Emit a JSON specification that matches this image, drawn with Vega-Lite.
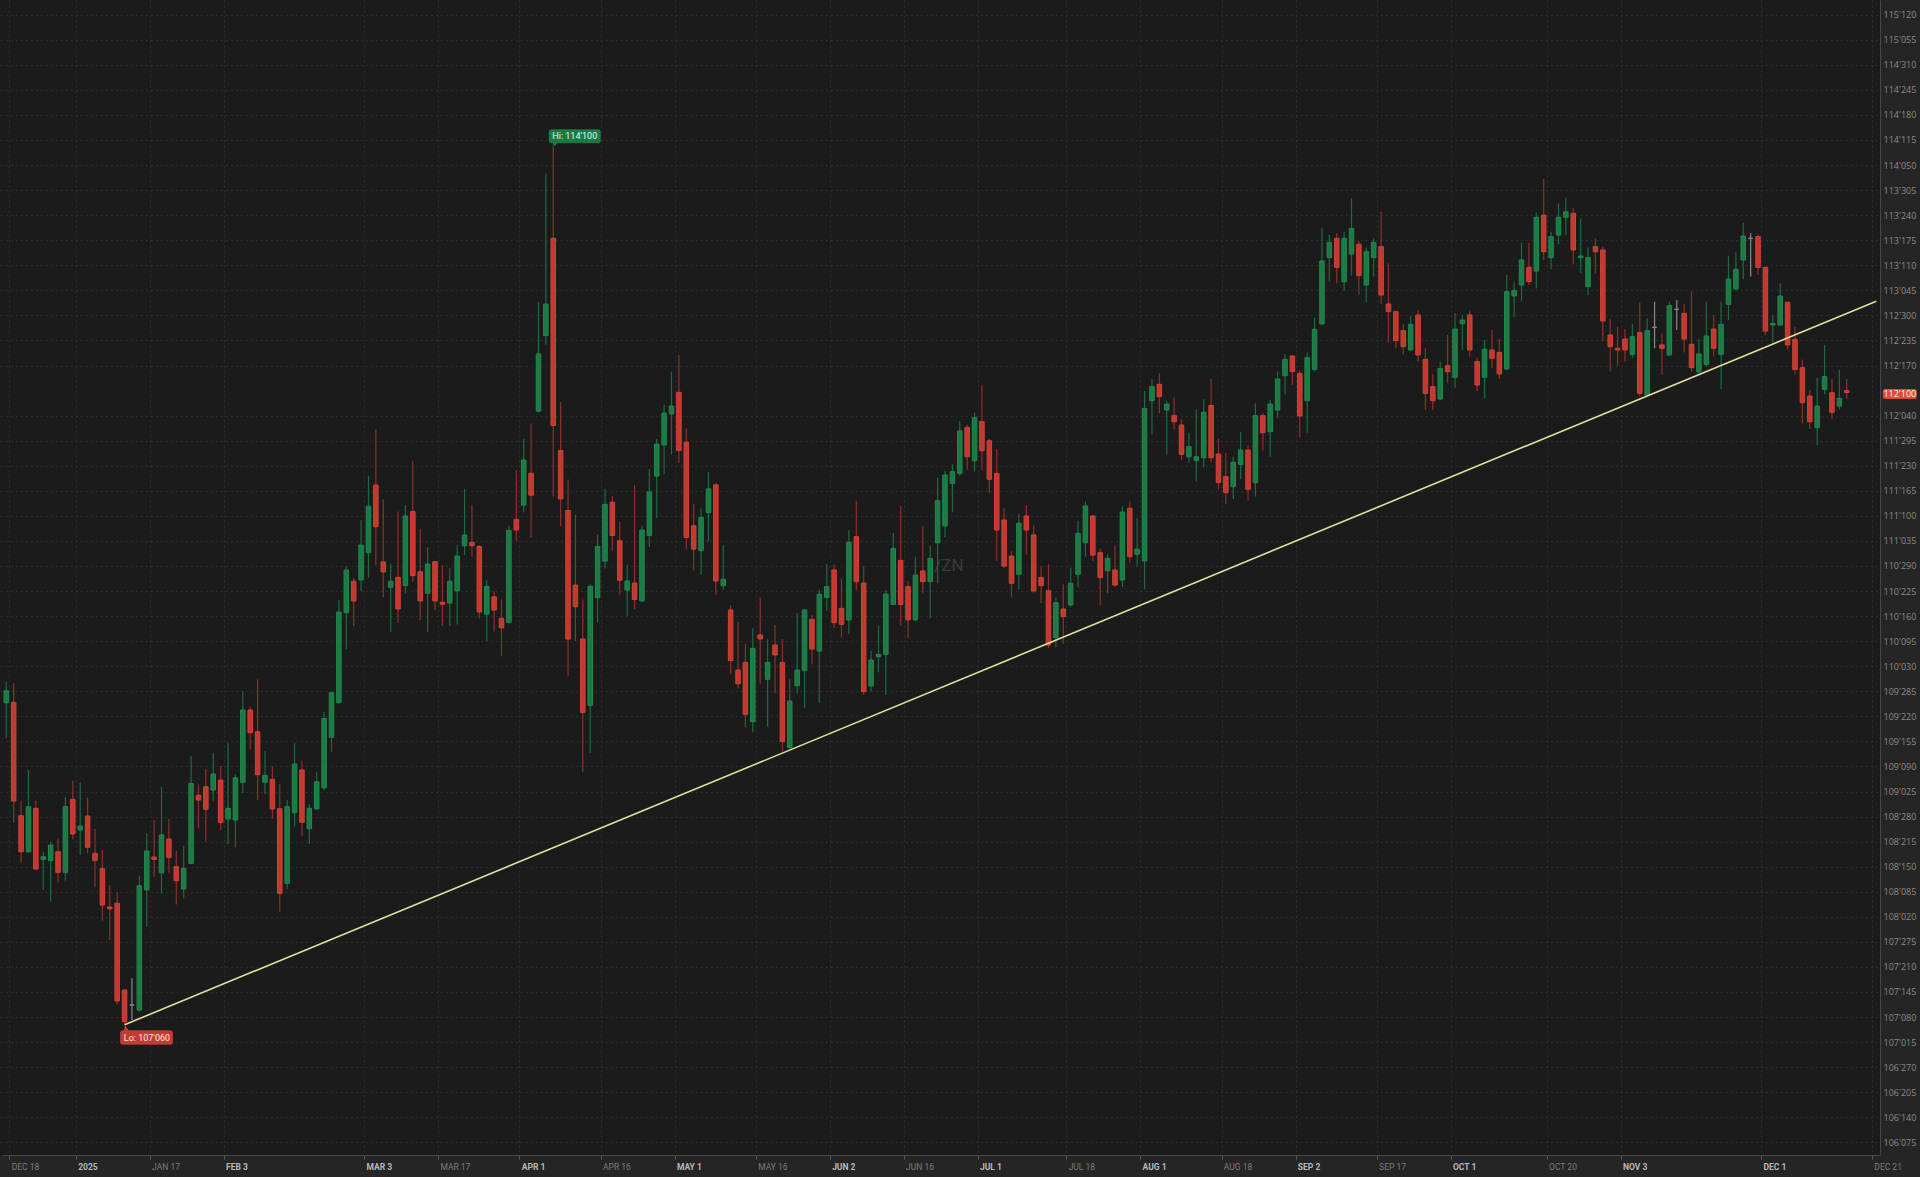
{
"$schema":"https://vega.github.io/schema/vega-lite/v6.json",
"width":1880,"height":1155,
"autosize":{"type":"none"},
"padding":{"left":0,"top":0,"right":40,"bottom":22},
"background":"#252525",
"config":{"view":{"fill":"#1b1b1b","stroke":null}},
"encoding":{
 "x":{"field":"d","type":"ordinal",
  "scale":{"type":"band","paddingInner":0,"paddingOuter":0,"range":[2.6,1880],
   "domain":["2024-12-17","2024-12-18","2024-12-19","2024-12-20","2024-12-23","2024-12-24","2024-12-26","2024-12-27","2024-12-30","2024-12-31",
   "2025-01-02","2025-01-03","2025-01-06","2025-01-07","2025-01-08","2025-01-10","2025-01-13","2025-01-14","2025-01-15","2025-01-16","2025-01-17","2025-01-21","2025-01-22","2025-01-23","2025-01-24","2025-01-27","2025-01-28","2025-01-29","2025-01-30","2025-01-31",
   "2025-02-03","2025-02-04","2025-02-05","2025-02-06","2025-02-07","2025-02-10","2025-02-11","2025-02-12","2025-02-13","2025-02-14","2025-02-18","2025-02-19","2025-02-20","2025-02-21","2025-02-24","2025-02-25","2025-02-26","2025-02-27","2025-02-28",
   "2025-03-03","2025-03-04","2025-03-05","2025-03-06","2025-03-07","2025-03-10","2025-03-11","2025-03-12","2025-03-13","2025-03-14","2025-03-17","2025-03-18","2025-03-19","2025-03-20","2025-03-21","2025-03-24","2025-03-25","2025-03-26","2025-03-27","2025-03-28","2025-03-31",
   "2025-04-01","2025-04-02","2025-04-03","2025-04-04","2025-04-07","2025-04-08","2025-04-09","2025-04-10","2025-04-11","2025-04-14","2025-04-15","2025-04-16","2025-04-17","2025-04-21","2025-04-22","2025-04-23","2025-04-24","2025-04-25","2025-04-28","2025-04-29","2025-04-30",
   "2025-05-01","2025-05-02","2025-05-05","2025-05-06","2025-05-07","2025-05-08","2025-05-09","2025-05-12","2025-05-13","2025-05-14","2025-05-15","2025-05-16","2025-05-19","2025-05-20","2025-05-21","2025-05-22","2025-05-23","2025-05-27","2025-05-28","2025-05-29","2025-05-30",
   "2025-06-02","2025-06-03","2025-06-04","2025-06-05","2025-06-06","2025-06-09","2025-06-10","2025-06-11","2025-06-12","2025-06-13","2025-06-16","2025-06-17","2025-06-18","2025-06-20","2025-06-23","2025-06-24","2025-06-25","2025-06-26","2025-06-27","2025-06-30",
   "2025-07-01","2025-07-02","2025-07-03","2025-07-07","2025-07-08","2025-07-09","2025-07-10","2025-07-11","2025-07-14","2025-07-15","2025-07-16","2025-07-17","2025-07-18","2025-07-21","2025-07-22","2025-07-23","2025-07-24","2025-07-25","2025-07-28","2025-07-29","2025-07-30","2025-07-31",
   "2025-08-01","2025-08-04","2025-08-05","2025-08-06","2025-08-07","2025-08-08","2025-08-11","2025-08-12","2025-08-13","2025-08-14","2025-08-15","2025-08-18","2025-08-19","2025-08-20","2025-08-21","2025-08-22","2025-08-25","2025-08-26","2025-08-27","2025-08-28","2025-08-29",
   "2025-09-02","2025-09-03","2025-09-04","2025-09-05","2025-09-08","2025-09-09","2025-09-10","2025-09-11","2025-09-12","2025-09-15","2025-09-16","2025-09-17","2025-09-18","2025-09-19","2025-09-22","2025-09-23","2025-09-24","2025-09-25","2025-09-26","2025-09-29","2025-09-30",
   "2025-10-01","2025-10-02","2025-10-03","2025-10-06","2025-10-07","2025-10-08","2025-10-09","2025-10-10","2025-10-13","2025-10-14","2025-10-15","2025-10-16","2025-10-17","2025-10-20","2025-10-21","2025-10-22","2025-10-23","2025-10-24","2025-10-27","2025-10-28","2025-10-29","2025-10-30","2025-10-31",
   "2025-11-03","2025-11-04","2025-11-05","2025-11-06","2025-11-07","2025-11-10","2025-11-11","2025-11-12","2025-11-13","2025-11-14","2025-11-17","2025-11-18","2025-11-19","2025-11-20","2025-11-21","2025-11-24","2025-11-25","2025-11-26","2025-11-28",
   "2025-12-01","2025-12-02","2025-12-03","2025-12-04","2025-12-05","2025-12-08","2025-12-09","2025-12-10","2025-12-11","2025-12-12","2025-12-15","2025-12-16","2025-12-17","2025-12-18","2025-12-19","2025-12-21"]},
  "axis":{"title":null,"orient":"bottom","bandPosition":0,"labelAngle":0,
   "values":["2024-12-18","2025-01-02","2025-01-17","2025-02-03","2025-03-03","2025-03-17","2025-04-01","2025-04-16","2025-05-01","2025-05-16","2025-06-02","2025-06-16","2025-07-01","2025-07-18","2025-08-01","2025-08-18","2025-09-02","2025-09-17","2025-10-01","2025-10-20","2025-11-03","2025-12-01","2025-12-21"],
   "labelExpr":"datum.value == '2025-01-02' ? '2025' : upper(utcFormat(toDate(datum.value), '%b %-d'))",
   "labelAlign":"left","labelBaseline":"top","labelPadding":3,"labelOffset":-2,
   "labelFont":"Roboto","labelFontSize":8.5,
   "labelColor":{"condition":{"test":"datum.value == '2025-01-02' || utcdate(toDate(datum.value)) <= 3","value":"#b8b8b8"},"value":"#7c7c7c"},
   "labelFontWeight":{"condition":{"test":"datum.value == '2025-01-02' || utcdate(toDate(datum.value)) <= 3","value":"bold"},"value":"normal"},
   "labelOverlap":false,"labelFlush":false,"labelBound":false,
   "tickSize":4,"tickColor":"#5a5a5a","domainColor":"#474747",
   "grid":true,"gridColor":"#2e2e2e","gridDash":[2,3]}}
},
"layer":[
 {"data":{"values":[{"d":"2025-06-24","v":110.906,"t":"/ZN"}]},
  "mark":{"type":"text","font":"Roboto","fontSize":17,"color":"#3a3a3a","align":"center","baseline":"middle","dx":4},
  "encoding":{"y":{"field":"v","type":"quantitative","scale":{"domain":[106.1318,115.4942],"nice":false,"zero":false}},
   "text":{"field":"t"}}},
 {"data":{"name":"ohlc"},
  "mark":{"type":"rule","strokeWidth":1.2},
  "encoding":{"y":{"field":"l","type":"quantitative","scale":{"domain":[106.1318,115.4942],"nice":false,"zero":false},
   "axis":{"title":null,"orient":"right","tickCount":100,
    "values":[106.234375,106.4375,106.640625,106.84375,107.046875,107.25,107.453125,107.65625,107.859375,108.0625,108.265625,108.46875,108.671875,108.875,109.078125,109.28125,109.484375,109.6875,109.890625,110.09375,110.296875,110.5,110.703125,110.90625,111.109375,111.3125,111.515625,111.71875,111.921875,112.125,112.53125,112.734375,112.9375,113.140625,113.34375,113.546875,113.75,113.953125,114.15625,114.359375,114.5625,114.765625,114.96875,115.171875,115.375],
    "labelExpr":"floor(datum.value) + \"'\" + (round((datum.value - floor(datum.value)) * 320) < 10 ? '00' : (round((datum.value - floor(datum.value)) * 320) < 100 ? '0' : '')) + round((datum.value - floor(datum.value)) * 320)",
    "labelAlign":"left","labelBaseline":"middle","labelPadding":3,"ticks":false,
    "labelFont":"Open Sans","labelFontSize":9,"labelColor":"#8c8c8c",
    "labelOverlap":false,"labelFlush":false,"labelBound":false,
    "domainColor":"#474747","grid":true,"gridColor":"#2e2e2e","gridDash":[2,3]}},
   "y2":{"field":"h"},
   "color":{"condition":[{"test":"datum.c > datum.o","value":"#1f6a40"},{"test":"datum.c < datum.o","value":"#8e3129"}],"value":"#8a8a8a"}}},
 {"data":{"name":"ohlc"},
  "mark":{"type":"bar","size":4.5,"strokeWidth":1},
  "encoding":{"y":{"field":"o","type":"quantitative","scale":{"domain":[106.1318,115.4942],"nice":false,"zero":false}},
   "y2":{"field":"c"},
   "fill":{"condition":[{"test":"datum.c > datum.o","value":"#1c7a45"},{"test":"datum.c < datum.o","value":"#c4392f"}],"value":"#8a8a8a"},
   "stroke":{"condition":[{"test":"datum.c > datum.o","value":"#22884e"},{"test":"datum.c < datum.o","value":"#cf4439"}],"value":"#8a8a8a"}}},
 {"data":{"values":[{"d":"2025-01-13","v":107.1875},{"d":"2025-12-21","v":113.052}]},
  "mark":{"type":"line","color":"#e0e09c","strokeWidth":1.6},
  "encoding":{"y":{"field":"v","type":"quantitative","scale":{"domain":[106.1318,115.4942],"nice":false,"zero":false}}}},
 {"data":{"values":[{"d":"2025-04-07","v":114.3125,"t":"Hi: 114'100"}]},
  "layer":[
   {"mark":{"type":"point","filled":true,"size":4,"opacity":1,"color":"#1b7a44","stroke":"#2a9556","strokeWidth":0.6,
     "shape":"M-2,-16H45Q47,-16 47,-14V-5Q47,-3 45,-3H4L1,0L0,-3H-2Q-4,-3 -4,-5V-14Q-4,-16 -2,-16Z"}},
   {"mark":{"type":"text","font":"Roboto","fontSize":9,"color":"#e9f4ec","align":"center","baseline":"middle","dx":21.5,"dy":-9.5},
    "encoding":{"text":{"field":"t"}}}],
  "encoding":{"y":{"field":"v","type":"quantitative","scale":{"domain":[106.1318,115.4942],"nice":false,"zero":false}}}},
 {"data":{"values":[{"d":"2025-01-13","v":107.1875,"t":"Lo: 107'060"}]},
  "layer":[
   {"mark":{"type":"point","filled":true,"size":4,"opacity":1,"color":"#c23a30","stroke":"#d6493e","strokeWidth":0.6,
     "shape":"M-2,6H0L0.5,1L4,6H46Q48,6 48,8V17.5Q48,19.5 46,19.5H-2Q-4,19.5 -4,17.5V8Q-4,6 -2,6Z"}},
   {"mark":{"type":"text","font":"Roboto","fontSize":9,"color":"#fbeae8","align":"center","baseline":"middle","dx":22.4,"dy":12.8},
    "encoding":{"text":{"field":"t"}}}],
  "encoding":{"y":{"field":"v","type":"quantitative","scale":{"domain":[106.1318,115.4942],"nice":false,"zero":false}}}},
 {"data":{"values":[{"d":"2025-12-21","v":112.3125,"t":"112'100"}]},
  "layer":[
   {"mark":{"type":"point","filled":true,"size":4,"opacity":1,"color":"#e2463b",
     "shape":"M8.5,-3.5H38.5Q40.5,-3.5 40.5,-1.5V4.5Q40.5,6.5 38.5,6.5H8.5Q6.5,6.5 6.5,4.5V-1.5Q6.5,-3.5 8.5,-3.5Z"}},
   {"mark":{"type":"text","font":"Open Sans","fontSize":9,"color":"#ffffff","align":"center","baseline":"middle","dx":23.5,"dy":1.5},
    "encoding":{"text":{"field":"t"}}}],
  "encoding":{"y":{"field":"v","type":"quantitative","scale":{"domain":[106.1318,115.4942],"nice":false,"zero":false}}}}
],
"datasets":{"ohlc":[
{"d":"2024-12-17","o":109.798,"h":109.968,"l":109.509,"c":109.895},
{"d":"2024-12-18","o":109.801,"h":109.955,"l":108.825,"c":109.001},
{"d":"2024-12-19","o":108.882,"h":109.004,"l":108.496,"c":108.590},
{"d":"2024-12-20","o":108.590,"h":109.252,"l":108.582,"c":108.955},
{"d":"2024-12-23","o":108.942,"h":109.004,"l":108.440,"c":108.450},
{"d":"2024-12-24","o":108.528,"h":108.590,"l":108.280,"c":108.550},
{"d":"2024-12-26","o":108.518,"h":108.671,"l":108.185,"c":108.644},
{"d":"2024-12-27","o":108.590,"h":108.698,"l":108.342,"c":108.423},
{"d":"2024-12-30","o":108.423,"h":109.036,"l":108.355,"c":108.955},
{"d":"2024-12-31","o":109.015,"h":109.166,"l":108.690,"c":108.734},
{"d":"2025-01-02","o":108.766,"h":109.152,"l":108.563,"c":108.798},
{"d":"2025-01-03","o":108.880,"h":109.028,"l":108.577,"c":108.626},
{"d":"2025-01-06","o":108.577,"h":108.777,"l":108.307,"c":108.518},
{"d":"2025-01-07","o":108.453,"h":108.604,"l":108.031,"c":108.158},
{"d":"2025-01-08","o":108.142,"h":108.320,"l":107.874,"c":108.128},
{"d":"2025-01-10","o":108.172,"h":108.261,"l":107.348,"c":107.380},
{"d":"2025-01-13","o":107.469,"h":107.477,"l":107.1875,"c":107.212},
{"d":"2025-01-14","o":107.348,"h":107.564,"l":107.226,"c":107.348},
{"d":"2025-01-15","o":107.307,"h":108.396,"l":107.294,"c":108.315},
{"d":"2025-01-16","o":108.280,"h":108.739,"l":107.982,"c":108.596},
{"d":"2025-01-17","o":108.547,"h":108.847,"l":108.388,"c":108.528},
{"d":"2025-01-21","o":108.420,"h":109.117,"l":108.253,"c":108.726},
{"d":"2025-01-22","o":108.693,"h":108.855,"l":108.420,"c":108.545},
{"d":"2025-01-23","o":108.469,"h":108.596,"l":108.163,"c":108.355},
{"d":"2025-01-24","o":108.288,"h":108.639,"l":108.212,"c":108.455},
{"d":"2025-01-27","o":108.496,"h":109.366,"l":108.490,"c":109.144},
{"d":"2025-01-28","o":109.047,"h":109.136,"l":108.780,"c":109.009},
{"d":"2025-01-29","o":109.117,"h":109.261,"l":108.671,"c":108.934},
{"d":"2025-01-30","o":109.090,"h":109.393,"l":109.004,"c":109.220},
{"d":"2025-01-31","o":109.171,"h":109.285,"l":108.766,"c":108.828},
{"d":"2025-02-03","o":108.855,"h":109.474,"l":108.653,"c":108.942},
{"d":"2025-02-04","o":108.847,"h":109.217,"l":108.626,"c":109.190},
{"d":"2025-02-05","o":109.153,"h":109.888,"l":109.064,"c":109.739},
{"d":"2025-02-06","o":109.739,"h":109.766,"l":109.420,"c":109.555},
{"d":"2025-02-07","o":109.563,"h":109.988,"l":109.010,"c":109.215},
{"d":"2025-02-10","o":109.153,"h":109.407,"l":109.058,"c":109.209},
{"d":"2025-02-11","o":109.177,"h":109.285,"l":108.856,"c":108.937},
{"d":"2025-02-12","o":108.939,"h":109.137,"l":108.104,"c":108.253},
{"d":"2025-02-13","o":108.334,"h":109.010,"l":108.288,"c":108.955},
{"d":"2025-02-14","o":108.907,"h":109.474,"l":108.793,"c":109.301},
{"d":"2025-02-18","o":109.253,"h":109.328,"l":108.718,"c":108.829},
{"d":"2025-02-19","o":108.777,"h":108.974,"l":108.653,"c":108.942},
{"d":"2025-02-20","o":108.937,"h":109.239,"l":108.930,"c":109.158},
{"d":"2025-02-21","o":109.109,"h":109.725,"l":109.091,"c":109.671},
{"d":"2025-02-24","o":109.517,"h":109.885,"l":109.401,"c":109.880},
{"d":"2025-02-25","o":109.799,"h":110.631,"l":109.790,"c":110.533},
{"d":"2025-02-26","o":110.528,"h":110.906,"l":110.231,"c":110.874},
{"d":"2025-02-27","o":110.782,"h":110.814,"l":110.420,"c":110.623},
{"d":"2025-02-28","o":110.793,"h":111.279,"l":110.704,"c":111.076},
{"d":"2025-03-03","o":111.014,"h":111.638,"l":110.812,"c":111.390},
{"d":"2025-03-04","o":111.563,"h":112.014,"l":110.914,"c":111.225},
{"d":"2025-03-05","o":110.939,"h":111.447,"l":110.652,"c":110.858},
{"d":"2025-03-06","o":110.733,"h":110.922,"l":110.374,"c":110.782},
{"d":"2025-03-07","o":110.814,"h":111.347,"l":110.447,"c":110.558},
{"d":"2025-03-10","o":110.747,"h":111.401,"l":110.685,"c":111.312},
{"d":"2025-03-11","o":111.347,"h":111.760,"l":110.779,"c":110.828},
{"d":"2025-03-12","o":110.860,"h":111.206,"l":110.469,"c":110.623},
{"d":"2025-03-13","o":110.685,"h":111.058,"l":110.374,"c":110.922},
{"d":"2025-03-14","o":110.941,"h":110.945,"l":110.550,"c":110.623},
{"d":"2025-03-17","o":110.612,"h":110.914,"l":110.420,"c":110.596},
{"d":"2025-03-18","o":110.606,"h":110.887,"l":110.420,"c":110.782},
{"d":"2025-03-19","o":110.704,"h":111.076,"l":110.433,"c":110.987},
{"d":"2025-03-20","o":111.071,"h":111.530,"l":110.995,"c":111.158},
{"d":"2025-03-21","o":111.098,"h":111.401,"l":110.982,"c":111.071},
{"d":"2025-03-24","o":111.064,"h":111.076,"l":110.482,"c":110.533},
{"d":"2025-03-25","o":110.516,"h":110.791,"l":110.297,"c":110.741},
{"d":"2025-03-26","o":110.657,"h":110.701,"l":110.375,"c":110.549},
{"d":"2025-03-27","o":110.482,"h":110.634,"l":110.173,"c":110.405},
{"d":"2025-03-28","o":110.449,"h":111.232,"l":110.440,"c":111.195},
{"d":"2025-03-31","o":111.282,"h":111.685,"l":111.111,"c":111.198},
{"d":"2025-04-01","o":111.400,"h":111.937,"l":111.339,"c":111.766},
{"d":"2025-04-02","o":111.658,"h":112.062,"l":111.137,"c":111.480},
{"d":"2025-04-03","o":112.162,"h":113.046,"l":112.150,"c":112.626},
{"d":"2025-04-04","o":112.774,"h":114.088,"l":112.700,"c":113.029},
{"d":"2025-04-07","o":113.563,"h":114.3125,"l":111.467,"c":112.045},
{"d":"2025-04-08","o":111.843,"h":112.236,"l":111.228,"c":111.450},
{"d":"2025-04-09","o":111.356,"h":111.608,"l":110.012,"c":110.314},
{"d":"2025-04-10","o":110.751,"h":111.322,"l":110.297,"c":110.576},
{"d":"2025-04-11","o":110.314,"h":110.634,"l":109.239,"c":109.719},
{"d":"2025-04-14","o":109.777,"h":110.761,"l":109.390,"c":110.741},
{"d":"2025-04-15","o":110.650,"h":111.161,"l":110.449,"c":111.064},
{"d":"2025-04-16","o":110.946,"h":111.531,"l":110.886,"c":111.406},
{"d":"2025-04-17","o":111.423,"h":111.474,"l":111.030,"c":111.154},
{"d":"2025-04-21","o":111.111,"h":111.262,"l":110.674,"c":110.791},
{"d":"2025-04-22","o":110.711,"h":110.919,"l":110.499,"c":110.785},
{"d":"2025-04-23","o":110.768,"h":111.564,"l":110.556,"c":110.634},
{"d":"2025-04-24","o":110.623,"h":111.232,"l":110.615,"c":111.198},
{"d":"2025-04-25","o":111.154,"h":111.692,"l":111.060,"c":111.507},
{"d":"2025-04-28","o":111.635,"h":111.937,"l":111.295,"c":111.894},
{"d":"2025-04-29","o":111.887,"h":112.213,"l":111.652,"c":112.146},
{"d":"2025-04-30","o":112.139,"h":112.482,"l":111.810,"c":112.203},
{"d":"2025-05-01","o":112.314,"h":112.616,"l":111.742,"c":111.843},
{"d":"2025-05-02","o":111.910,"h":112.021,"l":111.037,"c":111.137},
{"d":"2025-05-05","o":111.232,"h":111.406,"l":110.869,"c":111.043},
{"d":"2025-05-06","o":111.030,"h":111.373,"l":110.835,"c":111.299},
{"d":"2025-05-07","o":111.339,"h":111.669,"l":111.104,"c":111.531},
{"d":"2025-05-08","o":111.564,"h":111.580,"l":110.672,"c":110.785},
{"d":"2025-05-09","o":110.747,"h":111.076,"l":110.712,"c":110.798},
{"d":"2025-05-12","o":110.550,"h":110.590,"l":110.031,"c":110.139},
{"d":"2025-05-13","o":110.063,"h":110.455,"l":109.915,"c":109.952},
{"d":"2025-05-14","o":110.125,"h":110.274,"l":109.596,"c":109.704},
{"d":"2025-05-15","o":109.644,"h":110.401,"l":109.558,"c":110.239},
{"d":"2025-05-16","o":110.347,"h":110.652,"l":109.952,"c":110.315},
{"d":"2025-05-19","o":109.988,"h":110.312,"l":109.604,"c":110.125},
{"d":"2025-05-20","o":110.266,"h":110.428,"l":109.874,"c":110.185},
{"d":"2025-05-21","o":110.125,"h":110.315,"l":109.401,"c":109.482},
{"d":"2025-05-22","o":109.436,"h":109.988,"l":109.415,"c":109.812},
{"d":"2025-05-23","o":109.936,"h":110.528,"l":109.874,"c":110.063},
{"d":"2025-05-27","o":110.058,"h":110.555,"l":109.753,"c":110.550},
{"d":"2025-05-28","o":110.474,"h":110.509,"l":110.109,"c":110.233},
{"d":"2025-05-29","o":110.217,"h":110.712,"l":109.798,"c":110.677},
{"d":"2025-05-30","o":110.652,"h":110.922,"l":110.544,"c":110.739},
{"d":"2025-06-02","o":110.874,"h":110.920,"l":110.401,"c":110.447},
{"d":"2025-06-03","o":110.563,"h":110.806,"l":110.325,"c":110.433},
{"d":"2025-06-04","o":110.469,"h":111.198,"l":110.355,"c":111.098},
{"d":"2025-06-05","o":111.144,"h":111.436,"l":110.712,"c":110.779},
{"d":"2025-06-06","o":110.768,"h":110.906,"l":109.861,"c":109.888},
{"d":"2025-06-09","o":109.934,"h":110.220,"l":109.888,"c":110.144},
{"d":"2025-06-10","o":110.171,"h":110.423,"l":110.044,"c":110.190},
{"d":"2025-06-11","o":110.190,"h":110.712,"l":109.861,"c":110.679},
{"d":"2025-06-12","o":110.595,"h":111.176,"l":110.590,"c":111.049},
{"d":"2025-06-13","o":110.952,"h":111.393,"l":110.423,"c":110.595},
{"d":"2025-06-16","o":110.739,"h":110.787,"l":110.320,"c":110.469},
{"d":"2025-06-17","o":110.469,"h":110.982,"l":110.460,"c":110.833},
{"d":"2025-06-18","o":110.866,"h":111.230,"l":110.685,"c":110.779},
{"d":"2025-06-20","o":110.779,"h":111.071,"l":110.482,"c":110.968},
{"d":"2025-06-23","o":111.095,"h":111.622,"l":110.766,"c":111.436},
{"d":"2025-06-24","o":111.231,"h":111.679,"l":111.139,"c":111.644},
{"d":"2025-06-25","o":111.576,"h":111.730,"l":111.341,"c":111.671},
{"d":"2025-06-26","o":111.657,"h":112.082,"l":111.636,"c":112.001},
{"d":"2025-06-27","o":112.030,"h":112.049,"l":111.684,"c":111.792},
{"d":"2025-06-30","o":111.760,"h":112.149,"l":111.671,"c":112.109},
{"d":"2025-07-01","o":112.076,"h":112.373,"l":111.684,"c":111.841},
{"d":"2025-07-02","o":111.922,"h":111.936,"l":111.501,"c":111.609},
{"d":"2025-07-03","o":111.657,"h":111.855,"l":110.949,"c":111.198},
{"d":"2025-07-07","o":111.279,"h":111.374,"l":110.887,"c":110.906},
{"d":"2025-07-08","o":110.987,"h":111.028,"l":110.652,"c":110.766},
{"d":"2025-07-09","o":110.839,"h":111.328,"l":110.717,"c":111.252},
{"d":"2025-07-10","o":111.312,"h":111.401,"l":110.995,"c":111.198},
{"d":"2025-07-11","o":111.158,"h":111.233,"l":110.690,"c":110.704},
{"d":"2025-07-14","o":110.812,"h":110.906,"l":110.604,"c":110.747},
{"d":"2025-07-15","o":110.706,"h":110.920,"l":110.239,"c":110.266},
{"d":"2025-07-16","o":110.325,"h":110.652,"l":110.247,"c":110.609},
{"d":"2025-07-17","o":110.558,"h":110.758,"l":110.279,"c":110.496},
{"d":"2025-07-18","o":110.590,"h":110.893,"l":110.577,"c":110.766},
{"d":"2025-07-21","o":110.839,"h":111.274,"l":110.733,"c":111.171},
{"d":"2025-07-22","o":111.095,"h":111.428,"l":110.982,"c":111.393},
{"d":"2025-07-23","o":111.312,"h":111.320,"l":110.947,"c":110.995},
{"d":"2025-07-24","o":111.014,"h":111.049,"l":110.590,"c":110.812},
{"d":"2025-07-25","o":110.868,"h":111.001,"l":110.685,"c":110.968},
{"d":"2025-07-28","o":110.874,"h":111.071,"l":110.739,"c":110.752},
{"d":"2025-07-29","o":110.793,"h":111.393,"l":110.733,"c":111.344},
{"d":"2025-07-30","o":111.374,"h":111.428,"l":110.933,"c":110.982},
{"d":"2025-07-31","o":111.001,"h":111.293,"l":110.906,"c":111.044},
{"d":"2025-08-01","o":110.947,"h":112.325,"l":110.717,"c":112.184},
{"d":"2025-08-04","o":112.246,"h":112.422,"l":111.968,"c":112.360},
{"d":"2025-08-05","o":112.379,"h":112.468,"l":112.144,"c":112.279},
{"d":"2025-08-06","o":112.171,"h":112.246,"l":111.811,"c":112.219},
{"d":"2025-08-07","o":112.125,"h":112.273,"l":112.014,"c":112.076},
{"d":"2025-08-08","o":112.049,"h":112.098,"l":111.765,"c":111.811},
{"d":"2025-08-11","o":111.792,"h":111.987,"l":111.744,"c":111.874},
{"d":"2025-08-12","o":111.760,"h":112.176,"l":111.590,"c":111.792},
{"d":"2025-08-13","o":111.784,"h":112.257,"l":111.703,"c":112.152},
{"d":"2025-08-14","o":112.206,"h":112.422,"l":111.747,"c":111.784},
{"d":"2025-08-15","o":111.814,"h":111.936,"l":111.528,"c":111.582},
{"d":"2025-08-18","o":111.630,"h":111.825,"l":111.406,"c":111.501},
{"d":"2025-08-19","o":111.549,"h":111.792,"l":111.449,"c":111.747},
{"d":"2025-08-20","o":111.730,"h":111.995,"l":111.609,"c":111.846},
{"d":"2025-08-21","o":111.846,"h":111.887,"l":111.436,"c":111.528},
{"d":"2025-08-22","o":111.582,"h":112.225,"l":111.468,"c":112.125},
{"d":"2025-08-25","o":112.125,"h":112.144,"l":111.841,"c":111.987},
{"d":"2025-08-26","o":111.995,"h":112.252,"l":111.792,"c":112.219},
{"d":"2025-08-27","o":112.171,"h":112.482,"l":112.103,"c":112.422},
{"d":"2025-08-28","o":112.449,"h":112.622,"l":112.298,"c":112.581},
{"d":"2025-08-29","o":112.609,"h":112.617,"l":112.373,"c":112.482},
{"d":"2025-09-02","o":112.468,"h":112.490,"l":111.949,"c":112.122},
{"d":"2025-09-03","o":112.246,"h":112.636,"l":111.987,"c":112.595},
{"d":"2025-09-04","o":112.500,"h":112.919,"l":112.482,"c":112.825},
{"d":"2025-09-05","o":112.868,"h":113.649,"l":112.860,"c":113.379},
{"d":"2025-09-08","o":113.406,"h":113.589,"l":113.211,"c":113.530},
{"d":"2025-09-09","o":113.562,"h":113.603,"l":113.198,"c":113.327},
{"d":"2025-09-10","o":113.211,"h":113.616,"l":113.135,"c":113.562},
{"d":"2025-09-11","o":113.435,"h":113.887,"l":113.260,"c":113.643},
{"d":"2025-09-12","o":113.514,"h":113.543,"l":113.108,"c":113.260},
{"d":"2025-09-15","o":113.184,"h":113.487,"l":113.044,"c":113.454},
{"d":"2025-09-16","o":113.406,"h":113.562,"l":113.252,"c":113.530},
{"d":"2025-09-17","o":113.495,"h":113.778,"l":113.027,"c":113.103},
{"d":"2025-09-18","o":113.030,"h":113.360,"l":112.717,"c":112.968},
{"d":"2025-09-19","o":112.968,"h":112.973,"l":112.671,"c":112.733},
{"d":"2025-09-22","o":112.814,"h":112.865,"l":112.622,"c":112.684},
{"d":"2025-09-23","o":112.657,"h":112.935,"l":112.649,"c":112.865},
{"d":"2025-09-24","o":112.941,"h":112.981,"l":112.563,"c":112.617},
{"d":"2025-09-25","o":112.581,"h":112.671,"l":112.171,"c":112.306},
{"d":"2025-09-26","o":112.360,"h":112.460,"l":112.171,"c":112.246},
{"d":"2025-09-29","o":112.260,"h":112.563,"l":112.252,"c":112.508},
{"d":"2025-09-30","o":112.530,"h":112.779,"l":112.387,"c":112.481},
{"d":"2025-10-01","o":112.436,"h":112.954,"l":112.352,"c":112.827},
{"d":"2025-10-02","o":112.871,"h":112.941,"l":112.657,"c":112.900},
{"d":"2025-10-03","o":112.941,"h":112.976,"l":112.603,"c":112.657},
{"d":"2025-10-06","o":112.563,"h":112.595,"l":112.325,"c":112.373},
{"d":"2025-10-07","o":112.436,"h":112.738,"l":112.265,"c":112.663},
{"d":"2025-10-08","o":112.657,"h":112.819,"l":112.509,"c":112.590},
{"d":"2025-10-09","o":112.638,"h":112.746,"l":112.422,"c":112.463},
{"d":"2025-10-10","o":112.503,"h":113.265,"l":112.495,"c":113.130},
{"d":"2025-10-13","o":113.095,"h":113.206,"l":112.922,"c":113.138},
{"d":"2025-10-14","o":113.184,"h":113.527,"l":113.049,"c":113.387},
{"d":"2025-10-15","o":113.327,"h":113.527,"l":113.184,"c":113.211},
{"d":"2025-10-16","o":113.297,"h":113.770,"l":113.157,"c":113.733},
{"d":"2025-10-17","o":113.751,"h":114.043,"l":113.387,"c":113.454},
{"d":"2025-10-20","o":113.406,"h":113.616,"l":113.311,"c":113.576},
{"d":"2025-10-21","o":113.589,"h":113.846,"l":113.514,"c":113.733},
{"d":"2025-10-22","o":113.733,"h":113.892,"l":113.589,"c":113.778},
{"d":"2025-10-23","o":113.765,"h":113.811,"l":113.354,"c":113.468},
{"d":"2025-10-24","o":113.406,"h":113.724,"l":113.279,"c":113.419},
{"d":"2025-10-27","o":113.171,"h":113.487,"l":113.103,"c":113.406},
{"d":"2025-10-28","o":113.495,"h":113.562,"l":113.279,"c":113.454},
{"d":"2025-10-29","o":113.468,"h":113.495,"l":112.733,"c":112.892},
{"d":"2025-10-30","o":112.779,"h":112.906,"l":112.482,"c":112.684},
{"d":"2025-10-31","o":112.671,"h":112.846,"l":112.530,"c":112.657},
{"d":"2025-11-03","o":112.746,"h":112.827,"l":112.563,"c":112.657},
{"d":"2025-11-04","o":112.622,"h":112.868,"l":112.590,"c":112.765},
{"d":"2025-11-05","o":112.798,"h":113.043,"l":112.279,"c":112.306},
{"d":"2025-11-06","o":112.292,"h":112.914,"l":112.285,"c":112.814},
{"d":"2025-11-07","o":112.841,"h":113.049,"l":112.671,"c":112.841},
{"d":"2025-11-10","o":112.698,"h":112.792,"l":112.455,"c":112.671},
{"d":"2025-11-11","o":112.617,"h":113.049,"l":112.609,"c":113.017},
{"d":"2025-11-12","o":112.987,"h":113.062,"l":112.819,"c":112.987},
{"d":"2025-11-13","o":112.954,"h":113.027,"l":112.636,"c":112.746},
{"d":"2025-11-14","o":112.703,"h":113.130,"l":112.481,"c":112.514},
{"d":"2025-11-17","o":112.481,"h":112.746,"l":112.463,"c":112.625},
{"d":"2025-11-18","o":112.541,"h":113.049,"l":112.522,"c":112.771},
{"d":"2025-11-19","o":112.827,"h":112.941,"l":112.603,"c":112.671},
{"d":"2025-11-20","o":112.622,"h":113.049,"l":112.338,"c":112.865},
{"d":"2025-11-21","o":113.027,"h":113.419,"l":112.900,"c":113.233},
{"d":"2025-11-24","o":113.152,"h":113.449,"l":113.144,"c":113.311},
{"d":"2025-11-25","o":113.387,"h":113.689,"l":113.230,"c":113.581},
{"d":"2025-11-26","o":113.562,"h":113.603,"l":113.252,"c":113.562},
{"d":"2025-11-28","o":113.576,"h":113.589,"l":113.265,"c":113.327},
{"d":"2025-12-01","o":113.327,"h":113.333,"l":112.779,"c":112.811},
{"d":"2025-12-02","o":112.860,"h":112.941,"l":112.711,"c":112.873},
{"d":"2025-12-03","o":112.860,"h":113.198,"l":112.854,"c":113.095},
{"d":"2025-12-04","o":113.044,"h":113.049,"l":112.663,"c":112.698},
{"d":"2025-12-05","o":112.744,"h":112.846,"l":112.460,"c":112.500},
{"d":"2025-12-08","o":112.514,"h":112.581,"l":112.063,"c":112.230},
{"d":"2025-12-09","o":112.284,"h":112.333,"l":112.017,"c":112.076},
{"d":"2025-12-10","o":112.028,"h":112.433,"l":111.887,"c":112.203},
{"d":"2025-12-11","o":112.338,"h":112.698,"l":112.298,"c":112.441},
{"d":"2025-12-12","o":112.311,"h":112.422,"l":112.095,"c":112.152},
{"d":"2025-12-15","o":112.203,"h":112.495,"l":112.176,"c":112.265},
{"d":"2025-12-16","o":112.328,"h":112.422,"l":112.260,"c":112.3125}
]}
}
